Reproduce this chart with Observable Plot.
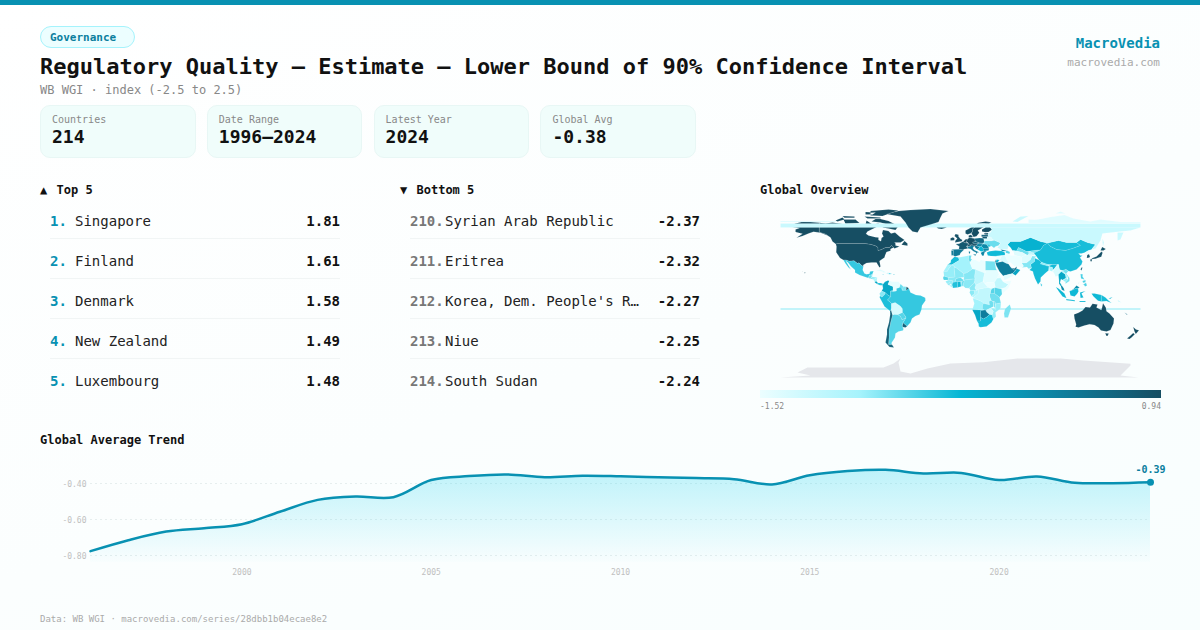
<!DOCTYPE html>
<html><head><meta charset="utf-8">
<script src="https://cdn.jsdelivr.net/npm/d3@7"></script>
<script src="https://cdn.jsdelivr.net/npm/@observablehq/plot@0.6"></script>
<style>
html,body{margin:0;padding:0}
body{width:1200px;height:630px;overflow:hidden;position:relative;font-family:"DejaVu Sans Mono",monospace;background:linear-gradient(160deg,#ffffff 0%,#fbfefe 55%,#f8fefe 100%);color:#111}
.a{position:absolute;white-space:pre;line-height:1}
#bar{position:absolute;left:0;top:0;width:1200px;height:5px;background:#0891b2}
.card{position:absolute;top:104.5px;height:51px;width:153.5px;background:#f0fdfb;border:1px solid #e8f7f5;border-radius:10px}
.line{position:absolute;height:1px;background:#f1f5f5}
svg{overflow:visible}
</style></head><body>
<div id="bar"></div><div id="root"></div>
<div id="map" style="position:absolute;left:760px;top:205px"></div>
<div id="trend" style="position:absolute;left:40px;top:450px"></div>
<script>
const statLabels=["Countries","Date Range","Latest Year","Global Avg"];
const statValues=["214","1996–2024","2024","-0.38"];
const topNames=["Singapore","Finland","Denmark","New Zealand","Luxembourg"];
const topRanks=["1.","2.","3.","4.","5."];
const topValues=["1.81","1.61","1.58","1.49","1.48"];
const bottomNames=["Syrian Arab Republic","Eritrea","Korea, Dem. People's R…","Niue","South Sudan"];
const bottomRanks=["210.","211.","212.","213.","214."];
const bottomValues=["-2.37","-2.32","-2.27","-2.25","-2.24"];
const trendYears=[1996,1997,1998,1999,2000,2001,2002,2003,2004,2005,2006,2007,2008,2009,2010,2011,2012,2013,2014,2015,2016,2017,2018,2019,2020,2021,2022,2023,2024];
const trendValues=[-0.776,-0.715,-0.667,-0.648,-0.626,-0.557,-0.491,-0.472,-0.476,-0.381,-0.359,-0.35,-0.365,-0.357,-0.36,-0.365,-0.37,-0.376,-0.405,-0.354,-0.331,-0.324,-0.344,-0.341,-0.381,-0.361,-0.396,-0.398,-0.393];
const palette=["#ecfeff","#a5f3fc","#06b6d4","#0e7f9e","#164e63"];
const colorDomain=[-1.52,0.94];

// [name, value, rings of lon/lat]; drawing order follows the list
const underlayRegions=[
["Fiji",-0.8,[[[-180,-15.95],[180,-15.95],[180,-16.95],[-180,-16.95]]]],
["Antarctica",null,[[[-180,-85],[-150,-83],[-163,-80],[-153,-75],[-127,-75],[-77,-75],[-67,-71],[-60,-66],[-62,-70],[-60,-79],[-50,-81],[-33,-76],[-10,-71],[23,-69.7],[57,-66],[100,-66],[123,-68],[170,-71.3],[170,-73],[160,-83],[178,-85]]]]
];
const americas=[
["United States",0.95,[[[-124.7,48.4],[-123,49],[-95,49],[-89,48],[-84.5,46.5],[-82.5,45],[-82.5,42],[-79,43],[-75,45],[-71,45],[-69,47.3],[-67,45],[-70,43.5],[-70,41.7],[-74,40.5],[-75.5,37],[-76,35],[-81,31.5],[-80,26],[-81,25],[-82.8,28],[-84,30],[-89,30],[-94,29.5],[-97.3,27.5],[-97.2,26],[-99.5,27.5],[-101.5,29.8],[-103,29],[-106.5,31.8],[-111,31.3],[-114.8,32.5],[-117.1,32.5],[-120.5,34.5],[-122.5,37.5],[-124.3,40.3],[-124,46]],[[-141,69.7],[-141,60.3],[-135,58.5],[-130,55],[-133,57],[-140,59.7],[-147,60.8],[-152,59],[-158,56.5],[-164,54.7],[-158,58.7],[-165,60.5],[-165,63],[-161,64.5],[-168,65.6],[-163,67],[-166,68.8],[-157,71],[-150,70.5]],[[-156,20.4],[-155,19.7],[-155.7,19]],[[-158.2,21.7],[-157.7,21.3],[-158.1,21.2]]]],
["Canada",0.95,[[[-141,69.7],[-135,69],[-128,70],[-115,68],[-108,68],[-95,68],[-94,72],[-88,68],[-82,69],[-81,67],[-87,64],[-93,61],[-94.5,58.7],[-92,57],[-85,55.3],[-82,55],[-82,52.5],[-79.5,51.3],[-79,54.5],[-77,56],[-78.5,59],[-77.5,62.5],[-72,61.5],[-69.5,59],[-65.5,60],[-61,56],[-56,52.5],[-60,50],[-66,50],[-65,49],[-65,47],[-61,46],[-66,44],[-67,45],[-69,47.3],[-71,45],[-75,45],[-79,43],[-82.5,42],[-82.5,45],[-84.5,46.5],[-89,48],[-95,49],[-123,49],[-124.7,48.4],[-128,51],[-130,55],[-135,58.5],[-141,60.3]],[[-80,73.5],[-72,71.5],[-62,66.5],[-65,62.5],[-72,64],[-78,65],[-73,68],[-80,70],[-89,71],[-85,73.5]],[[-117,73],[-105,73],[-101,69.5],[-115,68.8]],[[-125,72],[-118,75],[-116,73],[-123,71]],[[-90,77],[-78,76.5],[-62,82],[-72,83.1],[-90,81.5]],[[-96,76],[-80,75],[-80,74],[-93,74]],[[-118,76.4],[-106,76],[-106,74.8],[-116,74.8]],[[-95,80.5],[-85,80],[-88,78],[-95,78]],[[-59,47.7],[-53,46.7],[-53,49],[-56,51.5]]]],
["Mexico",-0.47,[[[-117.1,32.5],[-114.8,32.5],[-111,31.3],[-106.5,31.8],[-103,29],[-101.5,29.8],[-99.5,27.5],[-97.2,26],[-97.8,22.5],[-96,19],[-94,18.2],[-91,18.7],[-90.5,21],[-87,21.5],[-88,18.5],[-89,17.8],[-91,17.2],[-92.2,14.6],[-96,15.8],[-101,17.5],[-105.5,20],[-105.5,22.5],[-109.4,26],[-112.5,30],[-114.7,31.5],[-112,27],[-109.7,23],[-112,25],[-115,29]]]],
["Guatemala",-0.7,[[[-92.2,14.6],[-91,17.2],[-89,17.8],[-88.5,15.8],[-90,13.8]]]],
["Belize",-0.7,[[[-89,17.8],[-88,18.5],[-88.5,15.9]]]],
["Honduras",-0.85,[[[-89.3,14.4],[-88.5,15.8],[-83.3,15],[-85,14],[-87.5,13]]]],
["El Salvador",-0.6,[[[-90,13.8],[-89.3,14.4],[-87.8,13.3]]]],
["Nicaragua",-1.0,[[[-87.5,13],[-85,14],[-83.3,15],[-83.7,11],[-85.7,11.1]]]],
["Costa Rica",-0.13,[[[-85.7,11.1],[-83.7,11],[-82.6,9.5],[-83,8.3],[-85.7,10]]]],
["Panama",-0.4,[[[-83,8.3],[-82.6,9.5],[-79.5,9.5],[-77.3,8.5],[-78,7.3],[-80.5,7.3]]]],
["Cuba",-1.4,[[[-84.8,22],[-80,23],[-74.2,20.2],[-77.7,19.9],[-78,21]]]],
["Haiti",-1.3,[[[-74.4,18.4],[-73,19.9],[-71.7,19.7],[-71.7,18.2]]]],
["Dominican Republic",-0.6,[[[-71.7,19.7],[-68.5,18.6],[-71.7,18.2]]]],
["Jamaica",-0.3,[[[-78.3,18.3],[-76.3,18.1],[-77.5,17.8]]]],
["Puerto Rico",-0.2,[[[-67.2,18.4],[-65.7,18.3],[-66,18],[-67.2,18]]]],
["Colombia",-0.13,[[[-77.3,8.5],[-75.5,10.7],[-72,12.2],[-71.3,11],[-72.5,8],[-70,6.9],[-67.5,6],[-67.5,2],[-70,1.5],[-69.9,-4.2],[-73,-2.3],[-75.5,0],[-78.8,1.4],[-77.5,4],[-78,7.3]]]],
["Venezuela",-1.45,[[[-72,12.2],[-68,10.7],[-62,10.7],[-60,8.5],[-61,5],[-64,4],[-64,1.5],[-67,1],[-67.5,2],[-67.5,6],[-70,6.9],[-72.5,8],[-71.3,11]]]],
["Guyana",-0.68,[[[-60,8.5],[-57.2,6],[-58,2],[-60,1.3],[-61,5]]]],
["Suriname",-0.75,[[[-57.2,6],[-54,5.8],[-54.3,2.3],[-58,2]]]],
["French Guiana",0.95,[[[-54,5.8],[-51.7,4.2],[-52.8,2.2],[-54.3,2.3]]]],
["Ecuador",-0.8,[[[-78.8,1.4],[-75.5,0],[-75.3,-1.5],[-78.5,-4.7],[-80.3,-3.4],[-81,-1]]]],
["Peru",-0.38,[[[-81,-4.5],[-80.3,-3.4],[-78.5,-4.7],[-75.3,-1.5],[-75.5,0],[-73,-2.3],[-69.9,-4.2],[-73,-7.5],[-70.5,-9.5],[-69,-11],[-69,-15.5],[-69.5,-17.5],[-70.4,-18.4],[-76,-14],[-79.5,-7.5]]]],
["Bolivia",-1.35,[[[-69,-11],[-65.3,-10],[-60.2,-13.5],[-58,-16.3],[-58,-20],[-62.6,-22.2],[-66.3,-22],[-68,-22.8],[-69.5,-17.5],[-69,-15.5]]]],
["Brazil",-0.47,[[[-60,5.2],[-64,4],[-64,1.5],[-67,1],[-70,1.5],[-69.9,-4.2],[-73,-7.5],[-70.5,-9.5],[-69,-11],[-65.3,-10],[-60.2,-13.5],[-58,-16.3],[-58,-20],[-55,-24],[-54.6,-25.6],[-57.6,-30.2],[-53.4,-33.7],[-50,-30],[-48.5,-26],[-45,-23.5],[-41,-22],[-39,-17],[-38.5,-13],[-35,-8],[-35.3,-5.2],[-40,-3],[-44.5,-2.5],[-50,0],[-51.7,4.2],[-54,2.3],[-58,2]]]],
["Paraguay",-0.6,[[[-62.6,-22.2],[-58,-20],[-55,-24],[-54.6,-25.6],[-58.5,-27.2],[-60,-24]]]],
["Uruguay",0.7,[[[-58.3,-33.5],[-57.6,-30.2],[-53.4,-33.7],[-55,-35],[-58,-34.5]]]],
["Argentina",-0.6,[[[-66.3,-22],[-62.6,-22.2],[-60,-24],[-58.5,-27.2],[-54.6,-25.6],[-57.6,-30.2],[-58.3,-33.5],[-57,-36.5],[-57.5,-38],[-62,-39],[-65,-41],[-65.5,-45],[-69,-50.5],[-68.4,-52.3],[-72,-52],[-71.5,-45],[-71.5,-38],[-69.9,-30],[-68,-22.8]]]],
["Chile",0.72,[[[-70.4,-18.4],[-69.5,-17.5],[-68,-22.8],[-69.9,-30],[-71.5,-38],[-71.5,-45],[-72,-52],[-68.4,-52.3],[-66.5,-55],[-71,-54.5],[-75,-50],[-73.5,-42],[-73.5,-37],[-71.5,-30],[-70.3,-22]]]]
];
const europe=[
["Iceland",0.9,[[[-24,65.5],[-18,66.4],[-13.7,65],[-18.8,63.4],[-22.5,64]]]],
["Ireland",0.9,[[[-10,52],[-10,54.3],[-7.5,55.3],[-6,54],[-6.3,52.2]]]],
["United Kingdom",0.9,[[[-5.5,50],[1.5,51.2],[1.7,52.7],[0,53.5],[-2,56],[-2,57.7],[-5,58.6],[-6,56.5],[-3.2,54],[-5,52]]]],
["Norway",0.9,[[[5,59],[7,58],[10.5,59.2],[12,61],[12,63.5],[14,65],[16,68],[20,69],[25,69],[29,69.5],[31,70.3],[25,71],[18,69.8],[12,66],[8,63.5],[5,62]]]],
["Sweden",0.95,[[[11,59],[13,55.5],[16,56.2],[18.8,59.8],[17.3,62],[21.5,64.5],[24,66],[23.5,68],[20,69],[16,68],[14,65],[12,63.5],[12,61]]]],
["Finland",0.95,[[[21.5,61],[25,60.2],[28,60.5],[31.5,62.8],[29,66],[29,69.5],[25,69],[23.5,68],[24,66],[25,65],[21.5,63]]]],
["Denmark",0.95,[[[8.2,55],[10.8,54.9],[12.5,55.5],[10.5,57.7],[8.2,57]]]],
["France",0.8,[[[-4.8,48.4],[-1.5,48.7],[2.5,51],[4.2,50],[8.2,49],[7.5,47.6],[6,46.3],[7.5,44],[3.2,43.2],[3,42.4],[-1.7,43.3],[-1.2,46]]]],
["Spain",0.4,[[[-9.2,43],[-1.7,43.3],[3.2,42.4],[0,39.5],[-0.7,37.6],[-5.5,36],[-7.4,37.2],[-7,42]]]],
["Portugal",0.4,[[[-9.2,42],[-7,42],[-7.4,37.2],[-9,37]]]],
["Germany",0.95,[[[6,51],[7,53.5],[9,54.8],[14.2,53.9],[15,51],[12.2,50.3],[13.8,48.7],[10,47.4],[7.5,47.6],[8.2,49]]]],
["Benelux",0.95,[[[2.5,51],[3.5,51.5],[4.7,53],[7,53.5],[6,51],[6.1,49.5],[4.2,50]]]],
["Switzerland",0.95,[[[6,46.3],[7.5,47.6],[9.5,47.5],[10.4,46.6],[8.5,46]]]],
["Austria",0.9,[[[9.5,47.5],[13,48.7],[17,48.7],[16,46.8],[10.4,46.6]]]],
["Italy",0.35,[[[6.8,45.8],[8.5,46],[12,47],[13.7,46.3],[12.3,44.5],[13.7,42.5],[18.5,40.2],[16.5,39.8],[16,38],[15.5,40],[12.5,41.5],[10.3,43.5],[7.5,44]],[[12.5,38],[15.6,38.2],[15,36.7]],[[8.2,41],[9.7,41],[9.5,39],[8.5,39]]]],
["Poland",0.6,[[[14.2,53.9],[19,54.4],[23,54.3],[24,50.5],[22.5,49.1],[19,49.4],[15,51]]]],
["Czechia",0.7,[[[12.2,50.3],[15,51],[18.8,49.6],[17,48.7],[13.8,48.7]]]],
["Slovakia",0.4,[[[17,48.7],[18.8,49.6],[22.5,49.1],[22,48.4]]]],
["Hungary",0.25,[[[16,46.8],[17,48.7],[22,48.4],[21,46.2],[18,45.8]]]],
["Romania",0.2,[[[21,46.2],[22,48.4],[26.5,48.2],[28,45.5],[28.6,43.7],[23,43.8],[22.5,44.5]]]],
["Bulgaria",0.2,[[[22.5,44],[28.6,43.7],[28,42],[23,41.3]]]],
["Greece",0.25,[[[20.3,39.7],[23,41.3],[26.3,41.5],[24,40],[23.5,38],[22.8,36.5],[21.5,37]]]],
["Croatia and Slovenia",0.4,[[[13.7,46.3],[16,46.8],[18,45.8],[19,45],[17,43],[15.5,44]]]],
["Serbia and neighbours",-0.3,[[[19,45],[18,45.8],[21,46.2],[22.5,44.5],[22.5,44],[23,41.3],[20.5,41],[19.3,41.8],[17,43]]]],
["Belarus",-1.4,[[[23.5,53.9],[28,56],[31,55],[32,53],[30.5,51.4],[24,51.6]]]],
["Ukraine",-0.68,[[[24,50.5],[24,51.6],[30.5,51.4],[34,52.3],[40,49.6],[38,47],[35,46],[33.5,44.5],[31,46.5],[28,45.5],[26.5,48.2],[22.5,49.1]]]],
["Moldova",-0.45,[[[26.5,48.2],[29,48],[30,46.4],[28.2,45.5]]]],
["Lithuania",0.8,[[[21,56],[26.5,56],[26.5,54],[23,54]]]],
["Latvia",0.7,[[[21,57.7],[27.5,57.5],[28,56],[26.5,56],[21,56]]]],
["Estonia",0.9,[[[23.5,59.3],[28,59.4],[27.5,57.7],[24,58]]]],
["Turkey",-0.33,[[[26.3,40],[29,41.2],[35,42],[41.5,41.5],[44.7,39.7],[44.5,37.2],[36.5,36.3],[30.5,36.4],[27.3,37]]]],
["Georgia",0.2,[[[40,43.3],[46.5,41.8],[43.5,41.2],[41.5,41.5]]]],
["Azerbaijan",-0.6,[[[45,41.3],[46.5,41.9],[49.5,40.4],[48.8,38.5],[45.5,39]]]]
];
const africa=[
["Morocco",-0.35,[[[-13,27.7],[-9.8,30],[-9.5,32.5],[-6,35.8],[-2,35],[-1.2,32.2],[-8.7,27.7]]]],
["Western Sahara",-0.9,[[[-17,21],[-13,27.7],[-8.7,27.7],[-12,23.5],[-13,21.3]]]],
["Algeria",-0.9,[[[-8.7,27.7],[-1.2,32.2],[-2,35],[8.5,37],[8,33],[9.5,30],[12,23.5],[6,19.5],[3,19],[-4.8,25]]]],
["Tunisia",-0.68,[[[8.5,37],[11,37],[10.2,34],[11.5,33],[9.5,30],[8,33]]]],
["Libya",-1.5,[[[9.5,30],[11.5,33],[15,32.5],[19,30.5],[20,32.8],[25,31.5],[25,20],[24,19.5],[15,23],[12,23.5]]]],
["Egypt",-0.72,[[[25,31.5],[34.3,31],[35.5,23.5],[36.8,22],[25,22]]]],
["Sudan",-1.45,[[[25,22],[36.8,22],[38.5,18],[36.5,14.3],[34,10],[30,10],[27,10],[24,9],[22.5,12.5],[24,19.5],[25,20]]]],
["South Sudan",-1.52,[[[24,9],[27,10],[30,10],[34,10],[35,5],[31,3.7],[27.5,5]]]],
["Eritrea",-1.52,[[[36.5,14.3],[38.5,18],[43,12.7],[40,14.5]]]],
["Ethiopia",-1.15,[[[34,10],[36.5,14.3],[40,14.5],[42.5,11],[48,8],[45,5],[42,4],[36,4.5],[35,5]]]],
["Somalia",-1.52,[[[42.5,11],[51,11.8],[48,4.5],[41.5,-1.7],[41,3.5],[42,4],[45,5],[48,8]]]],
["Kenya",-0.6,[[[35,5],[36,4.5],[41,3.5],[41.5,-1.7],[39,-4.7],[34,-1],[34,4]]]],
["Uganda",-0.6,[[[31,3.7],[35,5],[34,4],[34,-1],[29.7,-1.4],[30,1]]]],
["Rwanda and Burundi",-0.4,[[[29,-1.4],[30.8,-1.2],[30.5,-4.5],[29.2,-4.3]]]],
["Tanzania",-0.7,[[[30,-1],[34,-1],[39,-4.7],[40.4,-10.5],[35,-11.5],[34.5,-9.5],[30.5,-8],[29.5,-5]]]],
["DR Congo",-1.15,[[[18.6,3.5],[22,4.2],[27.5,5],[31,3.7],[30,1],[29.2,-4.3],[29.5,-5],[30.5,-8],[28.5,-9],[29,-12.5],[27.5,-12],[23,-11],[22,-9.5],[16.5,-7],[12.3,-6],[13,-4.8],[16,-2.5],[17.5,-1],[18,2]]]],
["Congo",-1.05,[[[11.2,-4],[13,-4.8],[16,-2.5],[17.5,-1],[18,2],[18.6,3.5],[16,2],[13.5,2],[14,-1.5],[12,-2.5]]]],
["Gabon",-0.8,[[[9,0],[9.8,2.2],[13.5,2],[14,-1.5],[12,-2.5],[11.2,-4]]]],
["Cameroon",-0.8,[[[8.7,4.3],[9.8,2.2],[16,2],[14.5,4.5],[15.5,7.5],[14,10],[14.5,13],[13.3,9],[10.5,6.8]]]],
["Central African Republic",-1.3,[[[14.5,4.5],[16,2],[18.6,3.5],[22,4.2],[27.5,5],[24,9],[22.5,11],[18.5,9],[15.5,7.5]]]],
["Chad",-1.1,[[[14.5,13],[14,10],[15.5,7.5],[18.5,9],[22.5,11],[22.5,12.5],[24,19.5],[15,23],[14,16]]]],
["Niger",-0.78,[[[3,11.7],[3.5,15.3],[3,19],[6,19.5],[12,23.5],[15,23],[14,16],[14.5,13],[13,13.5],[8,13],[3.8,12.5]]]],
["Nigeria",-0.8,[[[2.7,6.4],[5,4.5],[8.7,4.3],[10.5,6.8],[13.3,9],[14.5,13],[13,13.5],[8,13],[3.8,12.5],[3,9]]]],
["Benin",-0.68,[[[1.7,6.3],[2.7,6.4],[3,9],[3.8,12],[1,11]]]],
["Togo",-0.8,[[[0.5,6],[1.7,6.3],[1,11],[0,11]]]],
["Ghana",-0.33,[[[-3,5],[0.5,6],[0,11],[-2.8,11]]]],
["Burkina Faso",-0.68,[[[-5.5,10.5],[-2.8,11],[2.3,11.2],[3,12.5],[0,15],[-4.5,14]]]],
["Cote d'Ivoire",-0.4,[[[-7.6,4.5],[-3,5],[-2.8,11],[-5.5,10.5],[-8,10.3],[-8.5,7.5]]]],
["Liberia",-0.95,[[[-11.4,6.9],[-7.6,4.5],[-8.5,7.5]]]],
["Sierra Leone",-0.8,[[[-13.3,8.5],[-11.4,6.9],[-10.3,8.5],[-11,10]]]],
["Guinea",-0.85,[[[-15,11],[-13.3,8.5],[-11,10],[-10.3,8.5],[-8.5,7.5],[-8,10.3],[-8,12],[-12,12.5]]]],
["Senegal",-0.6,[[[-17.5,14.7],[-16.5,16.5],[-12,15],[-12,12.5],[-16.7,12.4]]]],
["Mali",-0.8,[[[-12,15],[-5.5,15.5],[-6.5,25],[-4.8,25],[3,19],[3.5,15.3],[0,15],[-4.5,14],[-5.5,10.5],[-8,10.3],[-8,12],[-12,12.5]]]],
["Mauritania",-0.85,[[[-17,21],[-13,21.3],[-12,23.5],[-8.7,27.7],[-4.8,25],[-6.5,25],[-5.5,15.5],[-12,15],[-16.5,16.5]]]],
["Angola",-0.9,[[[12.3,-6],[16.5,-7],[22,-9.5],[23,-11],[22,-13],[22,-16],[23.5,-17.5],[18.5,-17.4],[11.8,-17.3],[13.8,-11]]]],
["Zambia",-0.7,[[[22,-13],[23,-11],[27.5,-12],[29,-12.5],[28.5,-9],[30.5,-8],[33,-9.5],[33,-14],[30,-15.5],[28,-16.5],[25.5,-17.8],[23.5,-17.5],[22,-16]]]],
["Malawi",-0.75,[[[33,-9.5],[34.5,-9.5],[35,-14],[35.3,-17],[33.5,-14]]]],
["Mozambique",-0.85,[[[40.4,-10.5],[35,-11.5],[35,-14],[35.3,-17],[33,-16],[30.5,-15.6],[32.8,-19],[31.5,-22.4],[32.8,-26.8],[35.5,-24],[35,-20],[40,-16]]]],
["Zimbabwe",-1.3,[[[25.5,-17.8],[28,-16.5],[30.5,-15.6],[32.8,-19],[31.5,-22.4],[29,-22],[26,-19.5]]]],
["Botswana",0.35,[[[20,-18],[23.5,-17.5],[25.5,-17.8],[26,-19.5],[29,-22],[26,-24.7],[22.8,-26.5],[20,-24.7]]]],
["Namibia",-0.13,[[[11.8,-17.3],[18.5,-17.4],[23.5,-17.5],[20,-18],[20,-24.7],[20,-28.5],[16.5,-28.5],[14.5,-22.5]]]],
["South Africa",-0.35,[[[16.5,-28.5],[20,-28.5],[20,-24.7],[22.8,-26.5],[26,-24.7],[29,-22],[31.5,-22.4],[32.8,-26.8],[31,-30],[26,-34],[20,-34.8],[18.3,-34],[18,-31]]]],
["Madagascar",-0.75,[[[49.3,-12],[50.5,-16],[47.5,-25],[44,-25],[43.5,-21],[44.5,-16.5]]]]
];
const asia=[
["Kazakhstan",-0.25,[[[47,48],[50,51],[60,51],[70,55],[80,51],[87,49.5],[83,47],[80,42.5],[70,41.5],[66,41],[58,45],[56,41.5],[52,42],[50,45]]]],
["Uzbekistan",-0.68,[[[56,41.5],[58,45],[66,41],[71,40.5],[67,37.3],[62,40]]]],
["Turkmenistan",-1.4,[[[52.5,42],[56,41.5],[62,40],[66,37.5],[61,35.5],[54,37.3]]]],
["Kyrgyzstan",-0.75,[[[70,41.5],[80,42.5],[74,39.5],[70,40]]]],
["Tajikistan",-1.2,[[[68,37],[75,37.5],[74,39.5],[68,40.5]]]],
["Mongolia",-0.35,[[[87,49.5],[98,52],[106,50],[116,50],[120,47],[112,44],[105,42],[96,43],[90,46]]]],
["China",-0.36,[[[73.5,39.5],[80,42.5],[83,47],[87,49.5],[90,46],[96,43],[105,42],[112,44],[120,47],[116,50],[120,53],[127,50],[135,48],[131,43],[128,42],[124.5,40],[121,39],[118,39],[120,37],[122,37],[119.5,35],[122,31],[121,28],[116,23],[110,21],[108,21.5],[105.5,23],[102,22],[99,23],[98,28],[92,28],[86,28],[81,30.3],[78.5,32.5],[76,36]]]],
["Taiwan",0.7,[[[120,23],[121,25],[122,25],[121,22]]]],
["India",-0.35,[[[74,34.5],[78.5,32.5],[81,30.3],[80,28.7],[88,26.5],[92,28],[97,28],[94,24],[92,22.5],[92,25],[88.5,26],[88,22],[85,19.5],[80.3,15],[80,11],[77.5,8],[74.5,14],[72.8,19],[72.5,21],[69,22.5],[71,24.5],[70,28],[74,31]]]],
["Pakistan",-0.78,[[[61.5,25],[66.5,25.5],[68,23.7],[71,24.5],[70,28],[74,31],[74,34.5],[76,36],[71.5,36.5],[70,33],[66,29.8],[61,29.5],[63,26.5]]]],
["Afghanistan",-1.4,[[[61,35.5],[66,37.5],[71.5,38],[71.5,36.5],[70,33],[66,29.8],[61,29.5]]]],
["Nepal",-0.85,[[[80,28.7],[81,30.3],[88,27.9],[88,26.5]]]],
["Bangladesh",-0.95,[[[88.5,26],[92,25],[92,21],[89,22]]]],
["Sri Lanka",-0.5,[[[80,9.5],[81.8,7.5],[80.6,6]]]],
["Iran",-1.5,[[[44.7,39.7],[48.8,38.5],[50,37],[54,37],[61,35.5],[61,29.5],[63,26.5],[61.5,25],[57,26],[54,26.5],[50,30],[48,30],[46,33.5],[44.5,37.2]]]],
["Iraq",-1.35,[[[41.5,37],[44.5,37.2],[46,33.5],[48,30],[46,29],[42,31],[39,32.5]]]],
["Syrian Arab Republic",-1.52,[[[36,36.5],[41.5,37],[39,32.5],[36,33]]]],
["Jordan",-0.3,[[[36,33],[39,32.5],[37,30],[35,29.5]]]],
["Israel",0.6,[[[34.3,31],[35.5,33],[35,29.5]]]],
["Saudi Arabia",0.35,[[[35,29.5],[37,30],[42,31],[46,29],[48,28.5],[50,25.5],[51,24.5],[55,22],[52,19],[44,17],[42.8,16.5],[39,21],[36,26.5]]]],
["United Arab Emirates",0.55,[[[51,24.5],[54,24],[56.3,26],[56,24],[55,22]]]],
["Oman",-0.1,[[[56,24],[59.8,22.5],[55,17],[52,19],[55,22]]]],
["Yemen",-1.45,[[[42.8,16.5],[44,17],[52,19],[53,16.7],[45,12.7],[43.5,12.7]]]],
["Myanmar",-1.35,[[[92.5,21],[94,24],[97,28],[98,28],[99,23],[101,21],[98,18],[98.5,12],[97.5,16.5],[95,16],[94,18.5]]]],
["Thailand",-0.13,[[[98,18],[101,21],[105,18],[105.5,14.5],[102,12.5],[100.5,13.5],[99.5,10],[101.5,6.8],[100,6.5],[98.5,9],[98.5,12]]]],
["Laos",-1.0,[[[101,21],[102,22],[105,19],[107.5,15.5],[106,14],[105.5,14.5],[105,18]]]],
["Vietnam",-0.72,[[[102,22],[105.5,23],[108,21.5],[105.7,19],[109,14.5],[109,11.5],[105,8.7],[105,10.5],[107.5,13],[107.5,15.5],[105,19]]]],
["Cambodia",-0.85,[[[102.5,12],[105.5,14.5],[107.5,13],[105,10.5]]]],
["Malaysia",0.2,[[[100.3,6.5],[101.5,6.8],[103.4,4],[104,1.4],[101.3,2.8]],[[110,1.5],[113,3.5],[116,7],[119,5],[117.5,4],[115,4],[111,2]]]],
["Indonesia",-0.32,[[[109,1.5],[111,2],[115,4],[117.5,4],[118,1],[116.5,-1.5],[114,-4],[110,-3]],[[95.3,5.6],[98,4],[104,-1],[106,-5.8],[102,-4],[98.7,0.5]],[[105.5,-6.5],[114.5,-7.8],[114.3,-8.7],[106,-7.7]],[[119.5,0],[125,1.5],[121,-1],[123,-5],[120,-5.5]],[[119,-8.5],[125,-8.4],[125,-9.5],[119,-9.5]],[[131,-1],[134,-1],[141,-2.6],[141,-9],[137.5,-8.2],[133,-4]]]],
["Papua New Guinea",-0.35,[[[141,-2.6],[145,-5],[148,-8],[151,-10.5],[146,-8.5],[141,-9]],[[148,-6],[152,-4.5],[150,-6.3]]]],
["Solomon Islands",-0.9,[[[157,-7.5],[160,-9.5],[161,-10],[158,-9]]]],
["Philippines",-0.55,[[[120,18.5],[122.3,18.3],[122,16],[124,13],[120.5,14]],[[122,7.5],[125.5,9.7],[126.5,7],[124.5,6],[123.5,7.7]],[[122,11.5],[125,12.5],[125,10.2],[122.5,9.7]],[[117.5,8.5],[119.5,11.5],[118,9]]]],
["Japan",0.9,[[[130.9,34],[136,36],[140,40],[141.5,41],[142,39.5],[140.8,35.7],[137,34.6],[135,33.7],[132,33.5]],[[140,42],[141.7,45.5],[145.3,43.5],[143,42]],[[129.7,33],[131.8,33.5],[131,31],[130,31.3]]]],
["Korea, Rep.",0.85,[[[126.3,34.5],[126.7,37.7],[128.4,38.5],[129.4,36],[129,35]]]],
["Korea, Dem. People's Rep.",-1.52,[[[124.5,40],[128,42],[130.6,42.3],[127.6,39.5],[128.4,38.5],[126.7,37.7],[125,38]]]],
["Australia",0.95,[[[113.5,-22],[114,-26],[115.7,-32],[115,-34.3],[118,-35],[124,-33],[129,-31.7],[134,-32.5],[138,-35],[140.5,-38],[146,-39],[150,-37.5],[153,-31],[153.5,-26],[149,-21],[146,-18.8],[145.3,-15],[142.5,-10.8],[141.6,-15],[140.8,-17.5],[136,-15],[137,-12],[132,-11.3],[129.5,-15],[125,-14.5],[122,-18],[118,-20.3]],[[144.7,-40.8],[148.3,-40.9],[147,-43.5],[146,-43.5]]]],
["New Zealand",0.95,[[[172.7,-34.5],[175.5,-37],[178.5,-37.7],[175.3,-41.6],[174,-39]],[[172.7,-40.6],[174.3,-41.7],[171,-45],[169,-46.6],[166.5,-46],[170,-43]]]],
["New Caledonia",0.6,[[[164,-20],[167,-22],[166.4,-22.3]]]]
];
const overlayRegions=[
["Russian Federation",-1.22,[[[30,65],[180,65],[170,62],[160,61],[142,59],[140,52],[135,44],[131,43],[135,48],[127,50],[120,53],[116,50],[106,50],[98,52],[87,49.5],[80,51],[70,55],[60,51],[50,51],[47,48],[48,46],[47,43],[40,43.3],[37,45],[39,47],[40,49.6],[34,52.3],[32,53],[31,55],[28,56],[27.5,57.7],[28,59.4],[30,60],[31.5,62.8]],[[-180,65],[180,65],[180,69],[-180,69]],[[157,60],[163,60],[160,53],[157,52]],[[142,54],[143.5,50],[142.5,46],[142,50]],[[52,71],[57,70.5],[68,76.5],[60,76]]]],
["Russian Arctic coast",-1.42,[[[68,70],[68,73],[75,72.8],[80,73.5],[90,75.5],[104,77.5],[113,74],[130,71],[140,73],[160,70.5],[180,70.5],[180,69.6],[68,69.6]],[[95,79],[105,79],[100,81]],[[-180,71.5],[-125,71.5],[-125,70.5],[-180,70.5]]]],
["Greenland",0.95,[[[-73,78.2],[-60,76],[-55,70],[-52,65],[-48,61],[-43,60],[-40,65],[-30,68],[-22,70.5],[-20,75],[-18,79],[-12,81.5],[-30,83.5],[-50,82.5],[-62,81.5],[-68,80]]]]
];

const toFeature=([name,value,rings])=>({type:"Feature",properties:{name,value},geometry:{type:"MultiPolygon",coordinates:rings.map(r=>[[...r,r[0]]])}});
const underlay=underlayRegions.map(toFeature);
const landFeatures=[...americas,...europe,...africa,...asia,...overlayRegions].map(toFeature);

const root=document.getElementById("root");
function text(x,y,str,o={}){const d=document.createElement("div");d.className="a";d.textContent=str;
  d.style.top=(y-(o.size/2))+"px";d.style.fontSize=o.size+"px";d.style.color=o.color||"#111";d.style.fontWeight=o.bold?"700":"400";
  if(o.right!==undefined){d.style.right=(1200-o.right)+"px"}else{d.style.left=x+"px"}root.appendChild(d);return d}

const badge=document.createElement("div");badge.style.cssText="position:absolute;left:40px;top:26px;width:93px;height:20px;background:#ecfeff;border:1px solid #a5f3fc;border-radius:11px";root.appendChild(badge);
text(50,37.5,"Governance",{size:11,bold:true,color:"#0b7f9e"});
text(40,67,"Regulatory Quality — Estimate — Lower Bound of 90% Confidence Interval",{size:22,bold:true});
text(40,89.5,"WB WGI · index (-2.5 to 2.5)",{size:12,color:"#888"});
text(0,43,"MacroVedia",{size:14,bold:true,color:"#0891b2",right:1160});
text(0,62,"macrovedia.com",{size:11,color:"#aaa",right:1160});
[40,206.8,373.6,540.4].forEach((x,i)=>{const c=document.createElement("div");c.className="card";c.style.left=x+"px";root.appendChild(c);
  text(x+12,119.5,statLabels[i],{size:10,color:"#888"});text(x+12,137,statValues[i],{size:18,bold:true})});
text(40,189.5,"▲",{size:12,bold:true});
text(56.5,189.5,"Top 5",{size:12,bold:true});
text(400,189.5,"▼",{size:12,bold:true});
text(416.5,189.5,"Bottom 5",{size:12,bold:true});
text(760,189.5,"Global Overview",{size:12,bold:true});
text(40,439.5,"Global Average Trend",{size:12,bold:true});
function list(x0,nameX,right,names,ranks,values,rankColor){
  names.forEach((n,i)=>{const y=221+40*i;
    text(x0,y,ranks[i],{size:14,bold:true,color:rankColor});
    text(nameX,y,n,{size:14,color:"#222"});
    text(0,y,values[i],{size:14,bold:true,right});
    if(i<4){const l=document.createElement("div");l.className="line";l.style.cssText+=`left:${x0}px;width:${right-x0}px;top:${y+17}px`;root.appendChild(l)}
  })}
list(50,75,340,topNames,topRanks,topValues,"#0891b2");
list(410,445,700,bottomNames,bottomRanks,bottomValues,"#777");
const legend=document.createElement("div");legend.style.cssText=`position:absolute;left:760px;top:390px;width:401px;height:8px;background:linear-gradient(90deg,${palette.join(",")})`;root.appendChild(legend);
text(760,407,"-1.52",{size:8,color:"#888"});
text(0,407,"0.94",{size:8,color:"#888",right:1161});
text(40,619,"Data: WB WGI · macrovedia.com/series/28dbb1b04ecae8e2",{size:9,color:"#aaa"});

// map: plain lon/lat plane, 1 unit per degree
const plane=d3.geoTransform({point(lon,lat){this.stream.point(200+lon,87-lat)}});
document.getElementById("map").appendChild(Plot.plot({
  width:400,height:176,margin:0,projection:plane,
  style:{background:"transparent"},
  color:{type:"linear",domain:colorDomain,range:palette,clamp:true,unknown:"#e5e7eb"},
  marks:[
    Plot.geo(underlay,{fill:d=>d.properties.value}),
    Plot.geo(landFeatures,{fill:d=>d.properties.value,stroke:"#fff",strokeWidth:0.25,strokeOpacity:0.5})
  ]
}));

// trend
const rows=trendYears.map((year,i)=>({year,value:trendValues[i]}));
const last=rows[rows.length-1];
const gradientDefs=()=>{const s=d3.create("svg:defs");const g=s.append("linearGradient").attr("id","trendFill").attr("x1",0).attr("x2",0).attr("y1",0).attr("y2",1);
  g.append("stop").attr("offset","0%").attr("stop-color","#22d3ee").attr("stop-opacity",0.28);
  g.append("stop").attr("offset","100%").attr("stop-color","#22d3ee").attr("stop-opacity",0.01);return s.node()};
document.getElementById("trend").appendChild(Plot.plot({
  width:1120,height:140,marginLeft:50,marginRight:10,marginTop:15,marginBottom:28,
  style:{background:"transparent",fontFamily:"'DejaVu Sans Mono',monospace",fontSize:"8px"},
  x:{domain:[1996,2024]},y:{domain:[-0.8389,-0.3]},
  marks:[
    gradientDefs,
    Plot.ruleY([-0.4,-0.6,-0.8],{stroke:"#e6eeee",strokeDasharray:"2,3"}),
    Plot.axisY({ticks:[-0.4,-0.6,-0.8],tickSize:0,tickPadding:4,tickFormat:d=>d.toFixed(2),label:null,color:"#c0c0c0",dy:0.5}),
    Plot.axisX({ticks:[2000,2005,2010,2015,2020],tickSize:0,tickPadding:7,tickFormat:d=>String(d),label:null,color:"#c0c0c0"}),
    Plot.areaY(rows,{x:"year",y1:-0.8389,y2:"value",curve:"catmull-rom",fill:"url(#trendFill)"}),
    Plot.lineY(rows,{x:"year",y:"value",curve:"catmull-rom",stroke:"#0891b2",strokeWidth:2.5}),
    Plot.dot([last],{x:"year",y:"value",r:3.5,fill:"#0891b2"}),
    Plot.text([last],{x:"year",y:"value",text:d=>d.value.toFixed(2),dy:-12,fontSize:10,fontWeight:700,fill:"#0b7f9e"})
  ]
}));
</script></body></html>
